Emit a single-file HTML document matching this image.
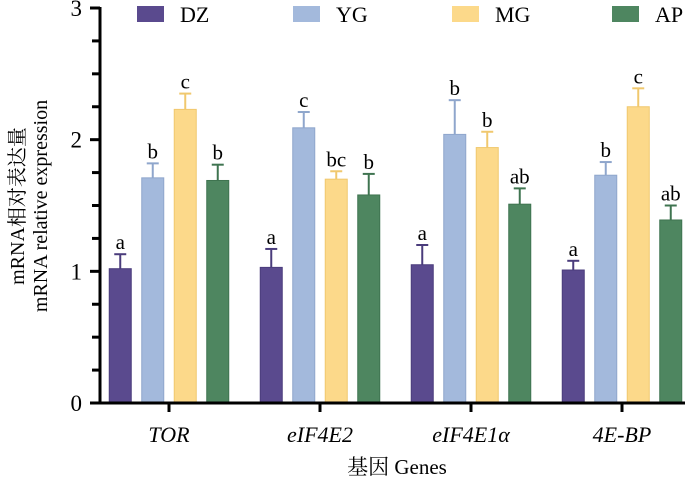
<!DOCTYPE html>
<html><head><meta charset="utf-8"><style>
html,body{margin:0;padding:0;background:#fff;}
svg{display:block;}
svg text{font-family:"Liberation Serif","Noto Serif CJK SC","Noto Sans CJK SC",serif;}
</style></head><body>
<svg id="chart" width="700" height="478" viewBox="0 0 700 478" xmlns="http://www.w3.org/2000/svg"></svg>
<script>
const categories = ["TOR","eIF4E2","eIF4E1α","4E-BP"];
const seriesNames = ["DZ","YG","MG","AP"];
const dzValues = [1.02,1.03,1.05,1.01];
const ygValues = [1.71,2.09,2.04,1.73];
const mgValues = [2.23,1.70,1.94,2.25];
const apValues = [1.69,1.58,1.51,1.39];
const dzErr = [0.11,0.14,0.15,0.07];
const ygErr = [0.11,0.12,0.26,0.10];
const mgErr = [0.12,0.06,0.12,0.14];
const apErr = [0.12,0.16,0.12,0.11];
const dzLetters = ["a","a","a","a"];
const ygLetters = ["b","c","b","b"];
const mgLetters = ["c","bc","b","c"];
const apLetters = ["b","b","ab","ab"];
const yTicks = [0,1,2,3];

const colors = ["#5a4a8e","#a3b9dc","#fcd98a","#4e8660"];
const strokes = ["#4a3c7c","#8fa6cc","#f0c86e","#3f7450"];
const values = [dzValues,ygValues,mgValues,apValues];
const errs = [dzErr,ygErr,mgErr,apErr];
const letters = [dzLetters,ygLetters,mgLetters,apLetters];

const svg = document.getElementById('chart');
const NS = "http://www.w3.org/2000/svg";
const FF = '"Liberation Serif", "Noto Serif CJK SC", serif';
const y0 = 403, yTop = 8, axisX = 100;
function yScale(v){ return y0 - (v/3)*(y0-yTop); }
function xCenter(i){ return 169 + i*151; }
const barW = 22, step = 32.5;
function xBar(i,s){ return xCenter(i) + (s-1.5)*step - barW/2; }
function mk(tag, attrs, text){
  const e = document.createElementNS(NS, tag);
  for (const k in attrs) e.setAttribute(k, attrs[k]);
  if (text !== undefined) { e.textContent = text; e.setAttribute('font-family', FF); }
  svg.appendChild(e); return e;
}

categories.forEach((c,i)=>{
  values.forEach((arr,s)=>{
    const x = xBar(i,s), v = arr[i], top = yScale(v), eTop = yScale(v+errs[s][i]);
    const cx = x + barW/2;
    const r = mk('rect',{x:x,y:top,width:barW,height:y0-top,fill:colors[s],stroke:strokes[s],'stroke-width':1});
    
    
    const l = mk('line',{x1:cx,y1:top,x2:cx,y2:eTop,stroke:strokes[s],'stroke-width':2});
    
    
    const cap = mk('line',{x1:cx-6,y1:eTop,x2:cx+6,y2:eTop,stroke:strokes[s],'stroke-width':2});
    
    
    const t = mk('text',{x:cx,y:eTop-5,'text-anchor':'middle','font-size':21,fill:'#000'}, letters[s][i]);
    
    
  });
  const tk = mk('line',{x1:xCenter(i),y1:y0,x2:xCenter(i),y2:y0+9,stroke:'#000','stroke-width':3});
  
  
  const lab = mk('text',{x:xCenter(i),y:442,'text-anchor':'middle','font-size':22,'font-style':'italic'}, c);
  
  
});

for (let k=0;k<=12;k++){
  const v = k/4, y = yScale(v), major = k%4===0;
  const t = mk('line',{x1:axisX-(major?10:8),y1:y,x2:axisX,y2:y,stroke:'#000','stroke-width':3});
  
  
}
yTicks.forEach(v=>{
  const t = mk('text',{x:82,y:yScale(v)+8,'text-anchor':'end','font-size':23}, String(v));
  
  
});
const ya = mk('line',{x1:axisX,y1:yTop-1,x2:axisX,y2:y0+1.5,stroke:'#000','stroke-width':3});


const xa = mk('line',{x1:axisX-10,y1:y0,x2:685,y2:y0,stroke:'#000','stroke-width':3});



const yt1 = mk('text',{x:0,y:0,'text-anchor':'middle','font-size':20,transform:'translate(24,206) rotate(-90)'}, 'mRNA相对表达量');


const yt2 = mk('text',{x:0,y:0,'text-anchor':'middle','font-size':20,transform:'translate(47,206) rotate(-90)'}, 'mRNA relative expression');


const xt = mk('text',{x:397,y:474,'text-anchor':'middle','font-size':21}, '基因 Genes');



const legX = [137,293,452,612];
seriesNames.forEach((n,s)=>{
  const r = mk('rect',{x:legX[s],y:6,width:27,height:16,fill:colors[s]});
  
  
  const t = mk('text',{x:legX[s]+43,y:22,'font-size':22}, n);
  
  
});
</script>
</body></html>
